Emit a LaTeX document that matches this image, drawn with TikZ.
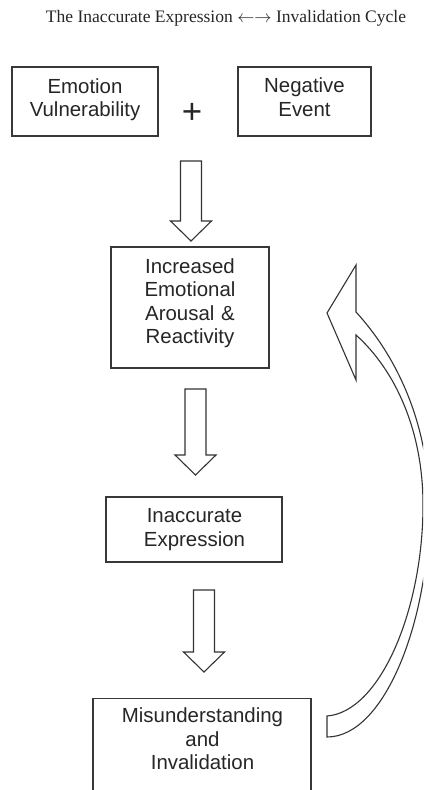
\documentclass[tikz,border=0pt]{standalone}
\usepackage{fontspec}
\setmainfont{Liberation Serif}
\newfontfamily\boxfamily{Liberation Sans}
\usetikzlibrary{calc}
\newcommand\boxfont{\boxfamily\fontsize{20.5}{23.7}\selectfont}
\newcommand\titlefont{\rmfamily\fontsize{17.6}{20}\selectfont}
\newcommand\hollowdn[2]{%
  \draw[hollow] ($(#1)+(-10.5,0)$) -- ($(#1)+(10.5,0)$) -- ($(#2)+(10.5,-20)$)
    -- ($(#2)+(20.5,-20)$) -- (#2) -- ($(#2)+(-20.5,-20)$) -- ($(#2)+(-10.5,-20)$) -- cycle;}
\tikzset{
  box/.style={draw=black!78, line width=1.3bp, rectangle, inner sep=0pt},
  txt/.style={inner sep=0pt, align=center, text width=220bp, font=\boxfont, text=black!85},
  hollow/.style={draw=black!80, line width=1.1bp, fill=white, line join=miter},
}
\begin{document}
\begin{tikzpicture}[x=1bp, y=-1bp]
\clip (0,0) rectangle (423,790);
\fill[white] (0,0) rectangle (423,790);

% title
\node[font=\titlefont, text=black!85, anchor=base, inner sep=0pt] (title) at (226,22.7)
  {The Inaccurate Expression $\leftarrow\rightarrow$ Invalidation Cycle};

% boxes
\node[box, minimum width=146bp, minimum height=69bp] (b1) at (85,101.5) {};
\node[txt, anchor=base] (t1) at (85,93) {Emotion\\Vulnerability};
\node[box, minimum width=133bp, minimum height=69bp] (b2) at (304.5,101.5) {};
\node[txt, anchor=base] (t2) at (304.5,92.8) {Negative\\Event};
\node[font=\boxfamily\fontsize{35}{40}\selectfont, text=black!85, inner sep=0pt] (plus) at (192,113.5) {+};

\node[box, minimum width=158bp, minimum height=121bp] (b3) at (190,307.5) {};
\node[txt, anchor=base] (t3) at (190,273) {Increased\\Emotional\\Arousal \&\\Reactivity};

\node[box, minimum width=176bp, minimum height=65bp] (b4) at (194,529.5) {};
\node[txt, anchor=base] (t4) at (194.5,522.7) {Inaccurate\\Expression};

\node[box, minimum width=218bp, minimum height=130bp, anchor=north] (b5) at (202,698) {};
\node[txt, anchor=base] (t5) at (202.5,722.7) {Misunderstanding\\and\\Invalidation};

% straight hollow arrows
\coordinate (a1s) at (191,161);   \coordinate (a1e) at (191,241);
\coordinate (a2s) at (195.5,389); \coordinate (a2e) at (195.5,475);
\coordinate (a3s) at (204,590);   \coordinate (a3e) at (204,672);
\hollowdn{a1s}{a1e}
\hollowdn{a2s}{a2e}
\hollowdn{a3s}{a3e}

% curved feedback arrow
\coordinate (ct1) at (327,716);
\coordinate (ct2) at (327,737);
\coordinate (h1) at (356,335);
\coordinate (h2) at (356,380);
\coordinate (h3) at (327,313);
\coordinate (h4) at (356,265);
\coordinate (h5) at (356,312);
\draw[hollow] (ct1) .. controls (380,712) and (423,610) .. (423,505)
  .. controls (423,430) and (395,370) .. (h1) -- (h2) -- (h3) -- (h4) -- (h5)
  .. controls (400,360) and (430,430) .. (429,510)
  .. controls (429,620) and (385,737) .. (ct2) -- cycle;
\end{tikzpicture}
\end{document}
